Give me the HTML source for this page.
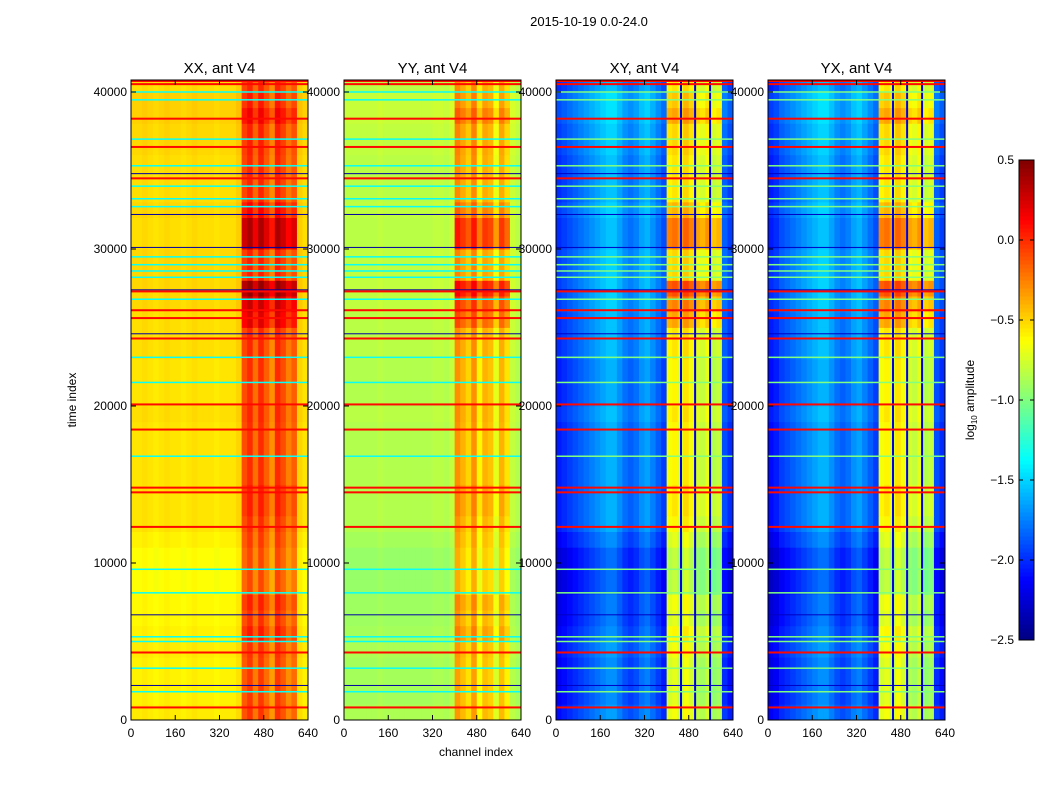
<!DOCTYPE html>
<html><head><meta charset="utf-8">
<style>
body{margin:0;background:#fff;font-family:"Liberation Sans",sans-serif;}
svg text{font-family:"Liberation Sans",sans-serif;}
</style></head>
<body>
<svg id="chart" width="1050" height="800" viewBox="0 0 1050 800" xmlns="http://www.w3.org/2000/svg">
<rect width="1050" height="800" fill="#fff"/>
<text x="589" y="26" font-size="13" text-anchor="middle">2015-10-19 0.0-24.0</text>
<g id="panels"></g>
<text x="76" y="400" font-size="12" text-anchor="middle" transform="rotate(-90 76 400)">time index</text>
<text x="476" y="756" font-size="12" text-anchor="middle">channel index</text>
<g id="cbar"></g>
<text x="974" y="400" font-size="12" text-anchor="middle" transform="rotate(-90 974 400)">log<tspan font-size="8" dy="3">10</tspan><tspan dy="-3"> amplitude</tspan></text>
</svg>
<script>
const panelTitles=["XX, ant V4","YY, ant V4","XY, ant V4","YX, ant V4"];
const xxCols=[-0.55,-0.55,-0.53,-0.55,-0.57,-0.55,-0.53,-0.55,-0.55,-0.57,-0.55,-0.53,-0.55,-0.55,-0.55,-0.57,-0.55,-0.55,-0.55,-0.5,-0.1,0.0,-0.2,0.0,-0.15,-0.3,0.0,-0.1,-0.25,-0.15,-0.5,-0.55];
const yyCols=[-0.85,-0.85,-0.85,-0.85,-0.85,-0.85,-0.83,-0.85,-0.85,-0.85,-0.85,-0.85,-0.85,-0.85,-0.85,-0.85,-0.83,-0.83,-0.85,-0.8,-0.3,-0.4,-0.5,-0.3,-0.6,-0.4,-0.45,-0.7,-0.4,-0.55,-0.8,-0.85];
const xyCols=[-2.05,-2.0,-1.95,-1.9,-1.85,-1.8,-1.75,-1.7,-1.65,-1.6,-1.6,-1.7,-1.8,-1.85,-1.8,-1.7,-1.65,-1.75,-1.85,-1.95,-0.65,-0.6,-0.7,-0.55,-0.65,-0.75,-0.8,-0.7,-0.85,-0.8,-1.9,-2.0];
const yxCols=[-2.1,-2.05,-1.95,-1.9,-1.85,-1.8,-1.75,-1.7,-1.65,-1.6,-1.6,-1.7,-1.8,-1.85,-1.8,-1.7,-1.65,-1.75,-1.85,-1.95,-0.65,-0.6,-0.7,-0.55,-0.65,-0.75,-0.8,-0.7,-0.85,-0.8,-1.9,-2.0];
const rowOffsets=[-0.05,-0.1,-0.1,-0.1,-0.05,-0.1,-0.15,-0.15,-0.2,-0.2,-0.2,-0.1,0,0,0,0,0,0,0,0.05,0,0,0,0.05,0.05,0.05,0.1,0.1,0.1,0.1,0.05,0.05,0.1,0.05,0.05,0.05,0.1,0.1,0.15,0.15,0.05];
const panelRowScale=[0.4,0.4,1,1];
const hotRows=[0,0,0,0,0,0.1,0.05,0.1,0,0,0,0,0,0.05,0.05,0,0,0,0,0,0,0,0,0,0,0.2,0.25,0.4,0,0,0.35,0.35,0.1,0,0,0,0,0,0.1,0,0];
const darkChannels=[452,503,557];
const redLines=[800,4300,12300,14500,14800,18500,20100,24300,25600,26100,27300,34500,36500,38300,40500,40700];
const cyanLines=[1800,3300,5000,5300,8100,9600,16800,21500,23100,26800,28200,28600,29000,29500,32700,33200,34000,35300,37000,39500,40000];
const darkLines=[2200,6700,24600,27400,30100,32200,34800];
const channelTicks=[0,160,320,480,640];
const timeTicks=[0,10000,20000,30000,40000];
const cbarTicks=[0.5,0.0,-0.5,-1.0,-1.5,-2.0,-2.5];
const panelCols=[xxCols,yyCols,xyCols,yxCols];
const panelX=[131,344,556,768], pw=177, plotTop=80, plotBot=720, tMax=40764, vmin=-2.5, vmax=0.5;
function clamp(v){return Math.max(0,Math.min(1,v));}
function jet(v){const t=clamp((v-vmin)/(vmax-vmin));
 const r=clamp(1.5-Math.abs(4*t-3)),g=clamp(1.5-Math.abs(4*t-2)),b=clamp(1.5-Math.abs(4*t-1));
 return `rgb(${Math.round(r*255)},${Math.round(g*255)},${Math.round(b*255)})`;}
const NS="http://www.w3.org/2000/svg";
function mk(tag,attrs,parent){const e=document.createElementNS(NS,tag);for(const k in attrs)e.setAttribute(k,attrs[k]);parent.appendChild(e);return e;}
const panelsG=document.getElementById('panels');
panelTitles.forEach((title,p)=>{
 const x0=panelX[p];
 const xs=c=>x0+c/640*pw, ys=t=>plotBot-t/tMax*(plotBot-plotTop);
 const g=mk('g',{},panelsG);
 
 
 const cols=panelCols[p];
 for(let r=0;r<rowOffsets.length;r++){
  const t0=r*1000,t1=Math.min((r+1)*1000,tMax);
  for(let c=0;c<cols.length;c++){
   let v=cols[c]+rowOffsets[r]*panelRowScale[p]+(c>=20&&c<30?hotRows[r]:0);
   const rc=mk('rect',{x:xs(c*20).toFixed(2),y:ys(t1).toFixed(2),width:(xs((c+1)*20)-xs(c*20)+0.4).toFixed(2),height:(ys(t0)-ys(t1)+0.4).toFixed(2),fill:jet(v)},g);
   
   
  }
 }
 if(p>=2){darkChannels.forEach(ch=>{
  const dl=mk('rect',{x:(xs(ch)-1).toFixed(2),y:plotTop,width:2,height:plotBot-plotTop,fill:jet(-2.2)},g);
  
  
 });}
 const lineSets=[[cyanLines,p<2?-1.35:-1.0,1.5],[darkLines,p<2?-2.4:-2.3,1],[redLines,0.1,2]];
 lineSets.forEach(([arr,val,h])=>arr.forEach(t=>{
  const ln=mk('rect',{x:x0,y:(ys(t)-h/2).toFixed(2),width:pw,height:h,fill:jet(val)},g);
  
  
 }));
 mk('rect',{x:x0,y:plotTop,width:pw,height:plotBot-plotTop,fill:'none',stroke:'#000','stroke-width':1},g);
 const tt=mk('text',{x:x0+pw/2,y:plotTop-7,'font-size':15,'text-anchor':'middle'},g);tt.textContent=title;
 
 
 channelTicks.forEach(v=>{const x=xs(v);
  mk('line',{x1:x,x2:x,y1:plotBot,y2:plotBot-5,stroke:'#000'},g);mk('line',{x1:x,x2:x,y1:plotTop,y2:plotTop+5,stroke:'#000'},g);
  const l=mk('text',{x:x,y:plotBot+17,'font-size':12,'text-anchor':'middle'},g);l.textContent=v;
  
  });
 timeTicks.forEach(v=>{const y=ys(v);
  mk('line',{x1:x0,x2:x0+5,y1:y,y2:y,stroke:'#000'},g);mk('line',{x1:x0+pw,x2:x0+pw-5,y1:y,y2:y,stroke:'#000'},g);
  const l=mk('text',{x:x0-4,y:y+4,'font-size':12,'text-anchor':'end'},g);l.textContent=v;
  
  });
});
const cb=document.getElementById('cbar');
const cx=1019,cw=15,ct=160,cbb=640;
for(let i=0;i<120;i++){const v=vmin+(i+0.5)/120*(vmax-vmin);const y0=cbb-(i+1)/120*(cbb-ct);
 const r=mk('rect',{x:cx,y:y0.toFixed(2),width:cw,height:((cbb-ct)/120+0.5).toFixed(2),fill:jet(v)},cb);
 
 }
mk('rect',{x:cx,y:ct,width:cw,height:cbb-ct,fill:'none',stroke:'#000'},cb);
cbarTicks.forEach(v=>{const y=cbb-(v-vmin)/(vmax-vmin)*(cbb-ct);
 mk('line',{x1:cx,x2:cx+4,y1:y,y2:y,stroke:'#000'},cb);mk('line',{x1:cx+cw,x2:cx+cw-4,y1:y,y2:y,stroke:'#000'},cb);
 const l=mk('text',{x:cx-5,y:y+4,'font-size':12,'text-anchor':'end'},cb);l.textContent=v.toFixed(1).replace('-','\u2212');
 
 });
</script>
</body></html>
